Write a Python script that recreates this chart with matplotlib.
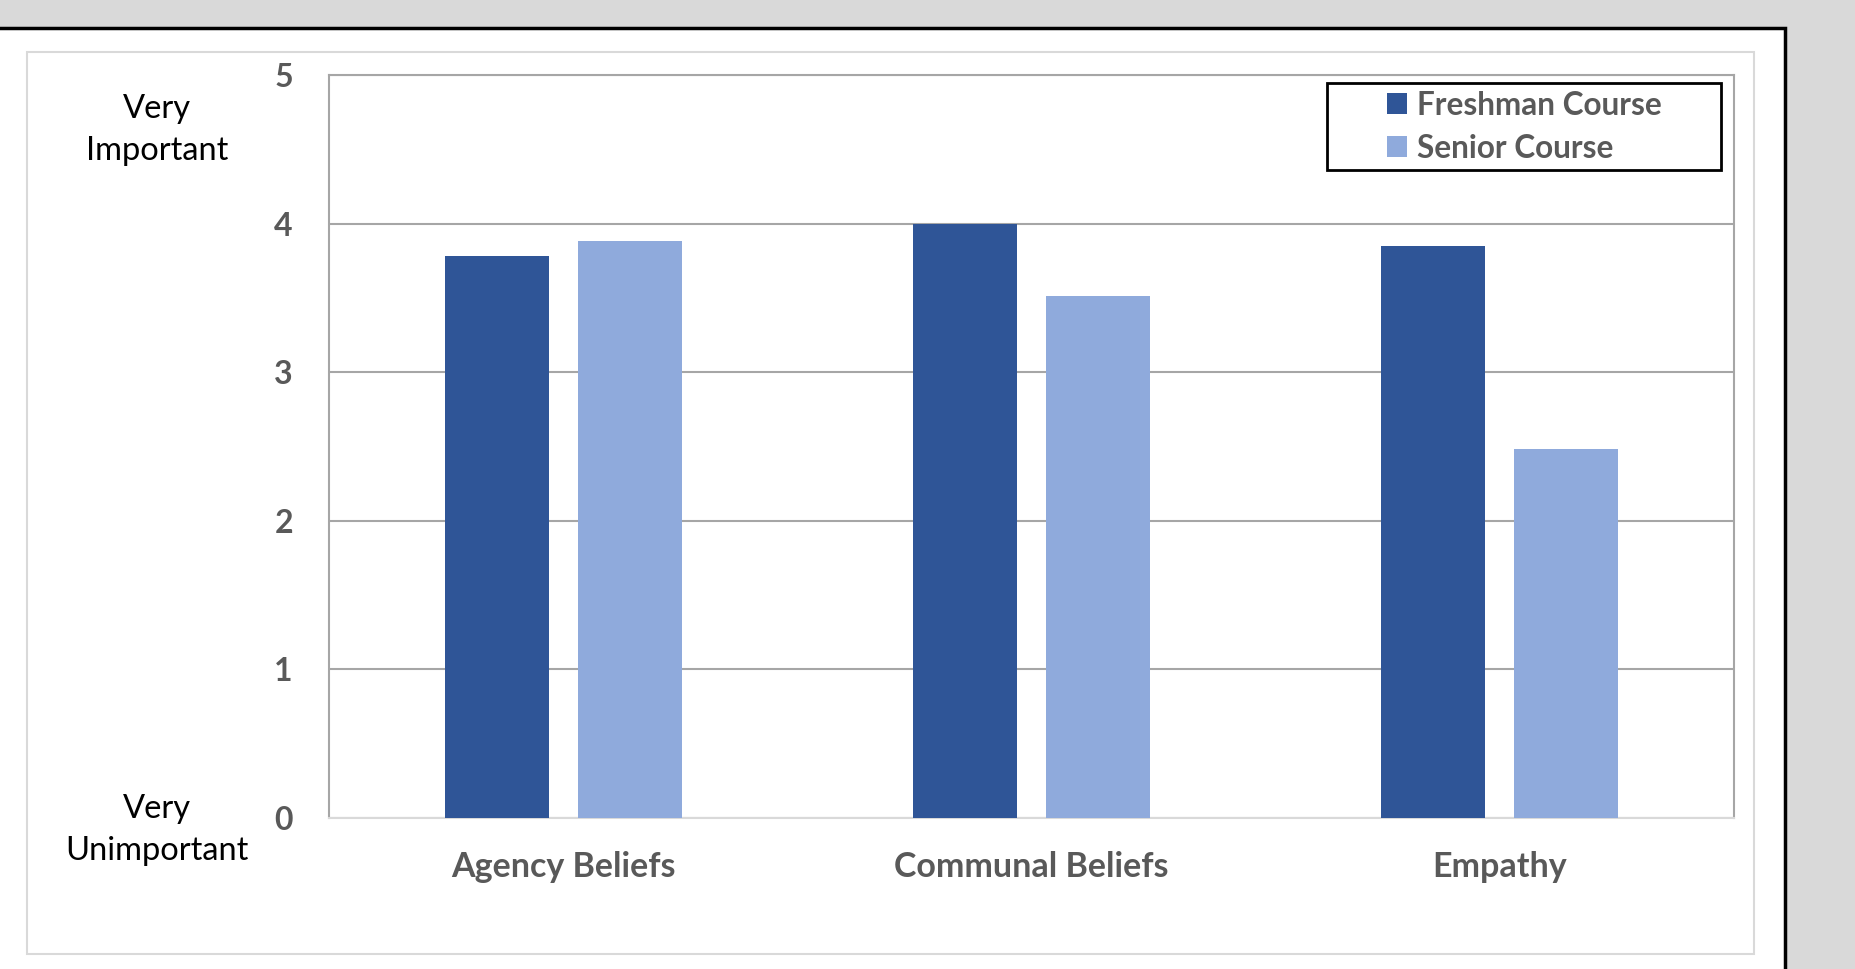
import matplotlib
matplotlib.use("Agg")
import matplotlib.pyplot as plt
from matplotlib.patches import Rectangle
import numpy as np

categories = ["Agency Beliefs", "Communal Beliefs", "Empathy"]
freshman = [3.78, 4.00, 3.85]
senior = [3.88, 3.51, 2.48]
series_names = ["Freshman Course", "Senior Course"]
yticks = [0, 1, 2, 3, 4, 5]

W, H = 1856, 969
fig = plt.figure(figsize=(W / 100, H / 100), dpi=100)
fig.patch.set_facecolor("#d9d9d9")
plt.rcParams['font.family'] = ['Lato', 'DejaVu Sans']

FS = 23

def fx(px):
    return px / W

def fy(py):
    return 1 - py / H

# outer white panel with black border
fig.patches.append(Rectangle((fx(-20), fy(1000)), fx(1785 + 20), fy(28) - fy(1000),
                             transform=fig.transFigure, facecolor="white",
                             edgecolor="black", linewidth=2.5, zorder=-3))
# inner light gray chart border
fig.patches.append(Rectangle((fx(27), fy(954)), fx(1754 - 27), fy(52) - fy(954),
                             transform=fig.transFigure, facecolor="white",
                             edgecolor="#d9d9d9", linewidth=1.5, zorder=-2))

ax = fig.add_axes([fx(329), fy(818), fx(1734 - 329), fy(75) - fy(818)])
ax.set_facecolor("white")

x = np.arange(len(categories))
bw = 0.222
off = 0.142
ax.bar(x - off, freshman, bw, color="#2f5597", label=series_names[0], zorder=3)
ax.bar(x + off, senior, bw, color="#8faadc", label=series_names[1], zorder=3)

ax.set_xlim(-0.5, 2.5)
ax.set_ylim(0, 5)
ax.set_yticks(yticks)
ax.set_yticklabels([str(t) for t in yticks])
ax.set_xticks(x)
ax.set_xticklabels(categories)
ax.tick_params(axis="y", length=0, pad=26, labelsize=FS, labelcolor="#595959")
ax.tick_params(axis="x", length=0, pad=24, labelsize=24.5, labelcolor="#595959")
for lab in ax.get_yticklabels() + ax.get_xticklabels():
    lab.set_fontweight("bold")

ax.yaxis.grid(True, color="#a6a6a6", linewidth=1.5, zorder=1)
ax.set_axisbelow(True)
for s in ["left", "top", "right"]:
    ax.spines[s].set_color("#a6a6a6")
    ax.spines[s].set_linewidth(1.5)
ax.spines["bottom"].set_color("#d9d9d9")
ax.spines["bottom"].set_linewidth(1.5)

# side labels
fig.text(fx(157), fy(130), "Very\nImportant", ha="center", va="center",
         fontsize=23.5, color="black", linespacing=1.5)
fig.text(fx(157), fy(830), "Very\nUnimportant", ha="center", va="center",
         fontsize=23.5, color="black", linespacing=1.5)

# legend box
ax.add_patch(Rectangle((0.710, 0.872), 0.281, 0.117, transform=ax.transAxes,
                       facecolor="white", edgecolor="black", linewidth=2,
                       zorder=5, clip_on=False))
leg = ax.legend(loc="center", bbox_to_anchor=(0.8505, 0.9305), frameon=False,
                fontsize=22.7, handlelength=0.65, handleheight=0.65,
                handletextpad=0.3, labelspacing=0.45, borderpad=0.2)
leg.set_zorder(6)
for t in leg.get_texts():
    t.set_color("#595959")
    t.set_fontweight("bold")

fig.savefig("out.png", dpi=100, facecolor=fig.get_facecolor())
